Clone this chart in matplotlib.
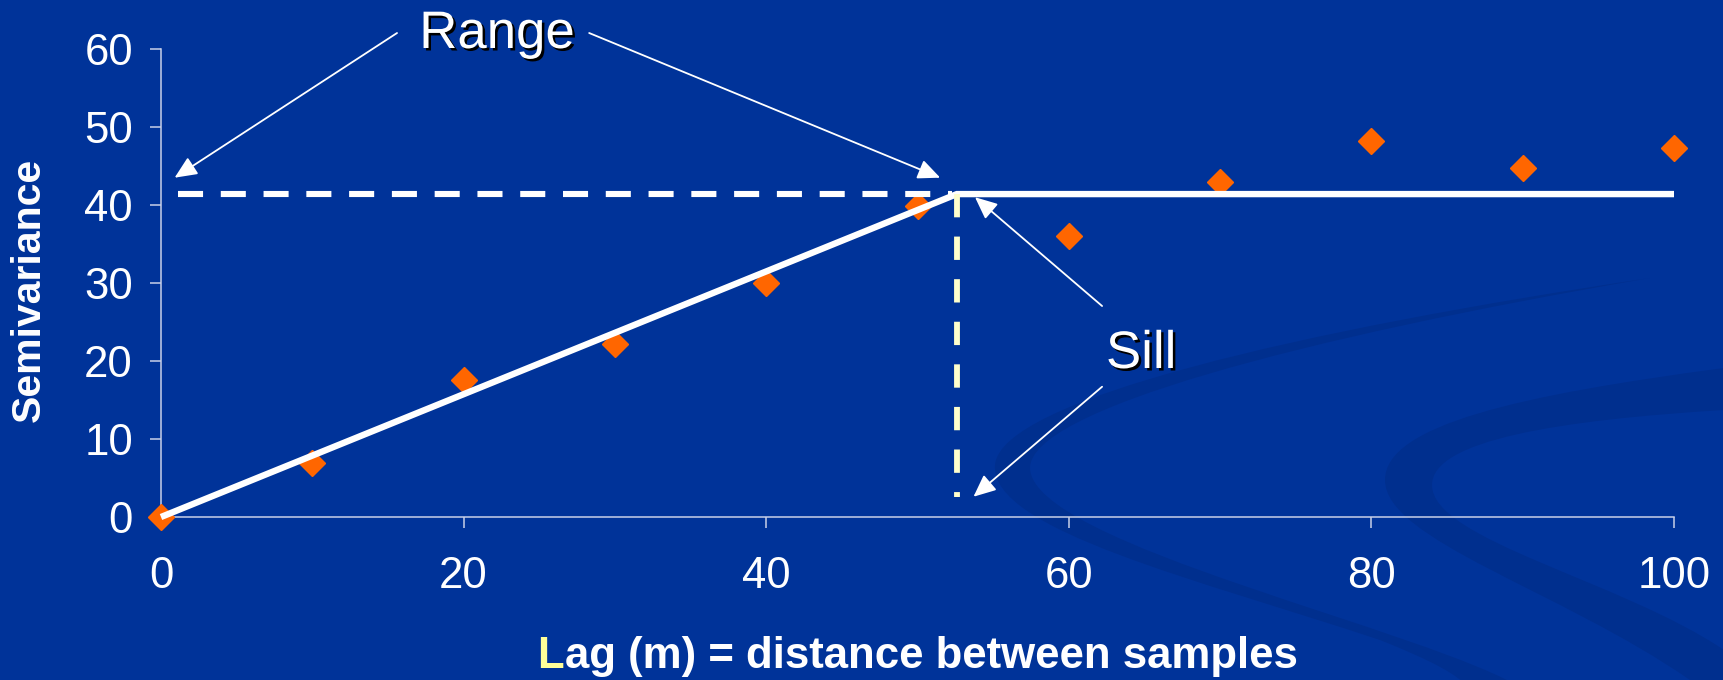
import matplotlib
matplotlib.use('Agg')
import matplotlib.pyplot as plt
import matplotlib.patheffects as pe
from matplotlib.path import Path
from matplotlib.patches import PathPatch

# semivariogram samples
lag = [0, 10, 20, 30, 40, 50, 60, 70, 80, 90, 100]
semivar = [0, 6.9, 17.6, 22.2, 30.0, 39.9, 36.0, 43.0, 48.2, 44.7, 47.3]

# fitted linear-sill model
sill = 41.4
rng = 52.6

xticks = [0, 20, 40, 60, 80, 100]
yticks = [0, 10, 20, 30, 40, 50, 60]

bg = '#003399'
band = '#002f8e'
orange = '#ff6600'
pale = '#ffffcc'
spine = '#c8d0e8'

plt.rcParams['font.family'] = ['Liberation Sans', 'DejaVu Sans']

fig = plt.figure(figsize=(17.24, 6.8), dpi=100, facecolor=bg)

# background swirl, drawn in pixel space on a full-figure axes
bgax = fig.add_axes([0, 0, 1, 1], zorder=-1)
bgax.set_xlim(0, 1724)
bgax.set_ylim(680, 0)
bgax.axis('off')
C, M, L, Z = Path.CURVE4, Path.MOVETO, Path.LINETO, Path.CLOSEPOLY
swirl_a = [
    ((1650, 278), M),
    ((1300, 330), C), ((1000, 400), C), ((995, 465), C),
    ((990, 530), C), ((1200, 580), C), ((1380, 640), C),
    ((1430, 660), C), ((1460, 675), C), ((1470, 690), C),
    ((1525, 690), L),
    ((1430, 630), C), ((1032, 545), C), ((1030, 468), C),
    ((1030, 410), C), ((1300, 338), C), ((1650, 278), C),
    ((1650, 278), Z),
]
swirl_b = [
    ((1724, 368), M),
    ((1520, 395), C), ((1385, 425), C), ((1385, 480), C),
    ((1385, 540), C), ((1560, 590), C), ((1690, 680), C),
    ((1724, 680), L), ((1724, 650), L),
    ((1620, 580), C), ((1432, 540), C), ((1432, 485), C),
    ((1432, 440), C), ((1560, 420), C), ((1724, 410), C),
    ((1724, 410), Z),
]
for pts in (swirl_a, swirl_b):
    verts, codes = zip(*pts)
    bgax.add_patch(PathPatch(Path(verts, codes), facecolor=band, edgecolor='none'))

ax = fig.add_axes([161 / 1724, 1 - 517 / 680, 1513 / 1724, 468 / 680])
ax.set_facecolor('none')
ax.set_xlim(0, 100)
ax.set_ylim(0, 60)

ax.plot(lag, semivar, linestyle='none', marker='D', markersize=13,
        color=orange, markeredgecolor=orange, clip_on=False, zorder=3)

# model: linear rise up to the range, then flat at the sill
ax.plot([0, rng, 100], [0, sill, sill], color='white', lw=4.6,
        solid_joinstyle='miter', solid_capstyle='butt', clip_on=False, zorder=4)
ax.plot([1.1, rng - 0.3], [sill, sill], color='white', lw=4.4,
        dashes=(4.1, 2.9), zorder=4)
ax.plot([rng, rng], [sill, 2.6], color=pale, lw=4.2,
        dashes=(4.0, 3.3), zorder=5)

arrow = dict(arrowstyle='-|>,head_length=0.85,head_width=0.38', color='white',
             lw=1.3, mutation_scale=16, shrinkA=0, shrinkB=0)
for tip, tail in [((0.9, 43.5), (15.6, 62.05)),
                  ((51.5, 43.5), (28.3, 62.05)),
                  ((53.8, 41.0), (62.2, 27.05)),
                  ((53.7, 2.6), (62.2, 16.7))]:
    ax.annotate('', xy=tip, xytext=tail, xycoords='data', textcoords='data',
                arrowprops=arrow, annotation_clip=False, zorder=6)

shadow = [pe.withSimplePatchShadow(offset=(1.8, -1.8), shadow_rgbFace='black', alpha=1.0)]
fig.text(497 / 1724, 1 - 48 / 680, 'Range', color='white', fontsize=38,
         ha='center', va='baseline', path_effects=shadow)
fig.text(1141 / 1724, 1 - 368 / 680, 'Sill', color='white', fontsize=38,
         ha='center', va='baseline', path_effects=shadow)

ax.set_xticks(xticks)
ax.set_yticks(yticks)
for s in ['top', 'right']:
    ax.spines[s].set_visible(False)
for s in ['left', 'bottom']:
    ax.spines[s].set_color(spine)
    ax.spines[s].set_linewidth(1.1)
ax.tick_params(axis='both', colors=spine, labelcolor='white', labelsize=31.5,
               length=8.2, width=1.1, direction='out')
ax.tick_params(axis='y', pad=12)
ax.tick_params(axis='x', pad=20)

fig.text(29 / 1724, 1 - 290 / 680, 'Semivariance', color='white', fontsize=29.5,
         fontweight='bold', rotation=90, ha='center', va='center')

# x label with a yellow initial "L" followed by the white remainder
head, rest = 'L', 'ag (m) = distance between samples'
ypos = 1 - 668 / 680
t_head = fig.text(0, ypos, head, color='#ffff99', fontsize=31.5, fontweight='bold',
                  ha='left', va='baseline')
t_rest = fig.text(0, ypos, rest, color='white', fontsize=31.5, fontweight='bold',
                  ha='left', va='baseline')
fig.canvas.draw()
w_head = t_head.get_window_extent().width + 2
w_rest = t_rest.get_window_extent().width
x0 = 161 + 1513 / 2 - (w_head + w_rest) / 2
t_head.set_x(x0 / 1724)
t_rest.set_x((x0 + w_head) / 1724)

fig.savefig('out.png', dpi=100, facecolor=bg)
